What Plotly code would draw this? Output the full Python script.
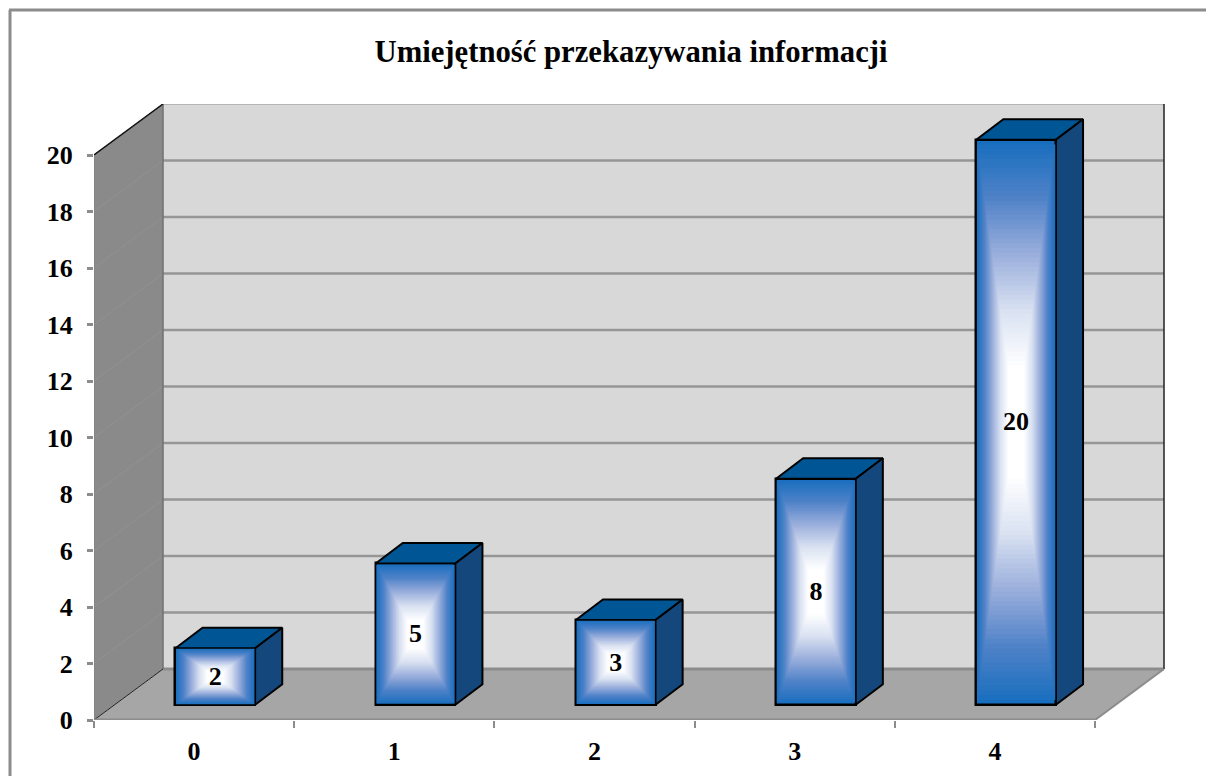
import plotly.graph_objects as go

categories = [0, 1, 2, 3, 4]
values = [2, 5, 3, 8, 20]
y_ticks = [0, 2, 4, 6, 8, 10, 12, 14, 16, 18, 20]
title = "Umiejętność przekazywania informacji"

# plot-area pixel geometry
W, H = 1206, 776
L, R, T, B = 94, 1165, 104, 720
PX_CAT = 200.2
PX_VAL = 28.25
DX = 69 / PX_CAT      # wall depth in category units
DY = 51 / PX_VAL      # wall depth in value units
BAR_W = 0.398
F0, F1 = 0.307, 0.7   # bar front / back depth fractions
FONT = "Liberation Serif"
STOPS = [(0.0, (24, 110, 190)), (0.2, (80, 130, 200)), (0.4, (155, 175, 220)),
         (0.6, (218, 226, 242)), (0.8, (255, 255, 255)), (1.0, (255, 255, 255))]
N = 60


def grad(t):
    for (a, ca), (b, cb) in zip(STOPS, STOPS[1:]):
        if t <= b:
            u = (t - a) / (b - a)
            return "rgb(%d,%d,%d)" % tuple(round(p + (q - p) * u) for p, q in zip(ca, cb))
    return "rgb(255,255,255)"


def poly(pts, fill, line=None, width=0, layer="below"):
    path = "M " + " L ".join(f"{x},{y}" for x, y in pts) + " Z"
    return dict(type="path", path=path, xref="x", yref="y", layer=layer, fillcolor=fill,
                line=dict(color=line or fill, width=width))


def seg(x0, y0, x1, y1, color, width):
    return dict(type="line", xref="x", yref="y", x0=x0, y0=y0, x1=x1, y1=y1, layer="below",
                line=dict(color=color, width=width))


x0 = categories[0] - 0.5
x1 = categories[-1] + 0.5
top = y_ticks[-1]
shapes = [
    poly([(x0 + DX, DY), (x1 + DX, DY), (x1 + DX, top + DY), (x0 + DX, top + DY)], "#d8d8d8"),
    poly([(x0, 0), (x0 + DX, DY), (x0 + DX, top + DY), (x0, top)], "#8a8a8a"),
    poly([(x0, 0), (x1, 0), (x1 + DX, DY), (x0 + DX, DY)], "#a6a6a6"),
]
for v in y_ticks:
    if v == 0:
        continue
    shapes.append(seg(x0, v, x0 + DX, v + DY, "#929292", 1))
    shapes.append(seg(x0 + DX, v + DY, x1 + DX, v + DY,
                      "#b4b4b4" if v == top else "#969696", 2 if v == top else 2.5))
shapes += [
    seg(x0 + DX, DY, x1 + DX, DY, "#8c8c8c", 3),
    seg(x0 + DX, DY, x0 + DX, top + DY, "#707070", 1.5),
    seg(x1 + DX, DY, x1 + DX, top + DY, "#222222", 1.5),
    seg(x0, 0, x0 + DX, DY, "#222222", 1),
    seg(x0, top, x0 + DX, top + DY, "#111111", 1.5),
    seg(x1, 0, x1 + DX, DY, "#8c8c8c", 2),
    seg(x0, 0, x1, 0, "#8c8c8c", 3),
    seg(x0, 0, x0, top, "#808080", 1),
]
# outer frame
fx = lambda p: (p - L) / (R - L)
fy = lambda p: (B - p) / (B - T)
frame = "#8c8c8c"
shapes.append(dict(type="line", xref="paper", yref="paper", x0=fx(10), x1=fx(10), y0=fy(10), y1=fy(776),
                   layer="below", line=dict(color=frame, width=3)))
shapes.append(dict(type="line", xref="paper", yref="paper", x0=fx(9), x1=fx(1206), y0=fy(10), y1=fy(10),
                   layer="below", line=dict(color=frame, width=3)))

xc = [c + F0 * DX for c in categories]
base = 0.3 * DY
fig = go.Figure()
fig.add_trace(go.Bar(x=xc, y=values, base=base, width=BAR_W,
                     marker=dict(color="rgb(24,110,190)", line=dict(color="#000000", width=2.5)),
                     hoverinfo="skip", showlegend=False))

# 3D top and side faces
dfx, dfy = (F1 - F0) * DX, (F1 - 0.3) * DY
tx, ty, sx, sy = [], [], [], []
for c, v in zip(xc, values):
    l, r, t = c - BAR_W / 2, c + BAR_W / 2, base + v
    tx += [l, r, r + dfx, l + dfx, l, None]
    ty += [t, t, t + dfy, t + dfy, t, None]
    sx += [r, r + dfx, r + dfx, r, r, None]
    sy += [base, base + dfy, t + dfy, t, base, None]
for px, py, col in ((tx, ty, "#005594"), (sx, sy, "#14487c")):
    fig.add_trace(go.Scatter(x=px, y=py, mode="lines", fill="toself", fillcolor=col,
                             line=dict(color="#000000", width=2), hoverinfo="skip", showlegend=False))

# concentric gradient on front faces
for i in range(1, N):
    t = i / N
    gx, gy = [], []
    for c, v in zip(xc, values):
        hw = BAR_W / 2 * (1 - t)
        hh = v / 2 * (1 - t)
        m = base + v / 2
        gx += [c - hw, c + hw, c + hw, c - hw, c - hw, None]
        gy += [m - hh, m - hh, m + hh, m + hh, m - hh, None]
    fig.add_trace(go.Scatter(x=gx, y=gy, mode="lines", fill="toself", fillcolor=grad(t),
                             line=dict(width=0), hoverinfo="skip", showlegend=False))

# value labels
fig.add_trace(go.Scatter(x=xc, y=[base + v / 2 - 0.06 for v in values], mode="text",
                         text=[str(v) for v in values], textposition="middle center",
                         textfont=dict(family=FONT, size=26, color="#000000", weight="bold"),
                         hoverinfo="skip", showlegend=False))

fig.update_layout(
    width=W, height=H, autosize=False,
    margin=dict(l=L, r=W - R, t=T, b=H - B, pad=0, autoexpand=False),
    paper_bgcolor="#ffffff", plot_bgcolor="rgba(0,0,0,0)",
    shapes=shapes, showlegend=False, bargap=0,
    title=dict(text=f"<b>{title}</b>", x=631 / W, y=1 - 51 / H, xanchor="center", yanchor="middle",
               font=dict(family=FONT, size=30.7, color="#000000")),
    xaxis=dict(range=[x0, x0 + (R - L) / PX_CAT], tickmode="array", tickvals=categories,
               ticktext=[str(c) for c in categories], ticks="outside", ticklen=0, tickwidth=0,
               ticklabelstandoff=8, showgrid=False, zeroline=False, showline=False, automargin=False,
               tickfont=dict(family=FONT, size=26, color="#000000", weight="bold"),
               minor=dict(tickmode="array", tickvals=[c - 0.5 for c in categories] + [x1],
                          ticks="outside", ticklen=7, tickwidth=2, tickcolor="#8c8c8c", showgrid=False)),
    yaxis=dict(range=[0, (B - T) / PX_VAL], tickmode="array", tickvals=y_ticks,
               ticks="outside", ticklen=6, tickwidth=2.5, tickcolor="#8c8c8c",
               ticklabelstandoff=9, showgrid=False, zeroline=False, showline=False, automargin=False,
               tickfont=dict(family=FONT, size=26, color="#000000", weight="bold")),
)
fig.write_html("out.html", config={"displayModeBar": False},
               post_script="document.body.style.margin='0';document.body.style.overflow='hidden';")
